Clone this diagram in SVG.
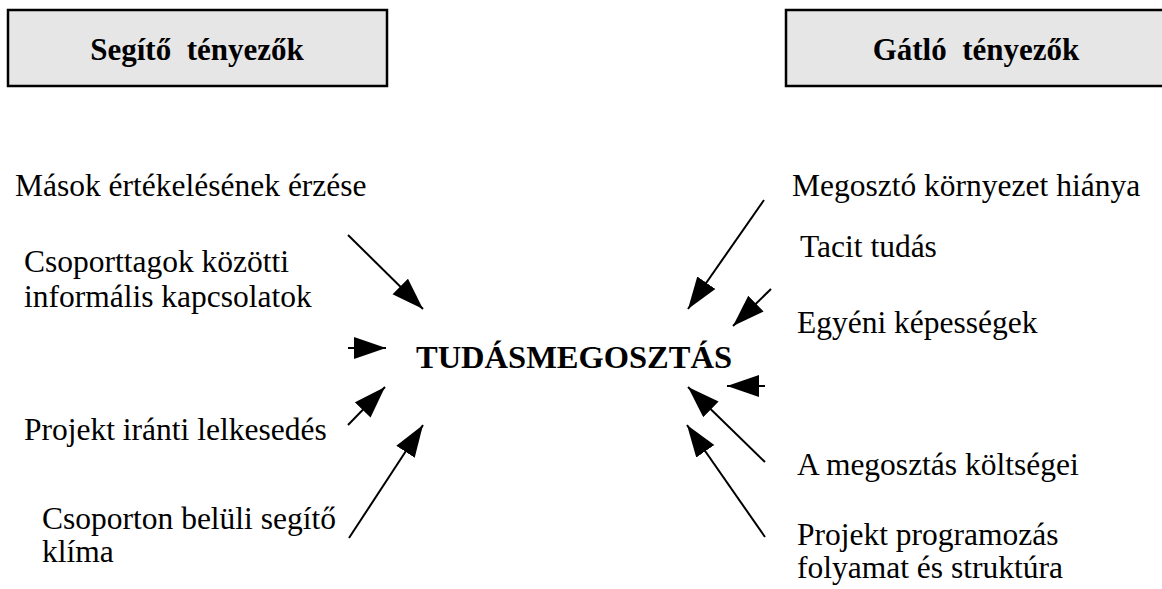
<svg xmlns="http://www.w3.org/2000/svg" width="1162" height="589" viewBox="0 0 1162 589">
  <style>
    .box { fill: #e6e6e6; stroke: #000; stroke-width: 2.5; }
    text { font-family: 'Liberation Serif', 'Tinos', 'Times New Roman', 'DejaVu Serif', serif; fill: #000; font-size: 31.5px; }
    .head { font-weight: bold; font-size: 31px; }
    .core { font-weight: bold; font-size: 32.5px; }
    .arrow { stroke: #000; stroke-width: 2; fill: none; marker-end: url(#head); }
  </style>
  <defs>
    <marker id="head" markerUnits="userSpaceOnUse" markerWidth="34" markerHeight="24" refX="32" refY="11" orient="auto">
      <path d="M0,0 L32,11 L0,22 Z" fill="#000"/>
    </marker>
  </defs>
  <rect width="1162" height="589" fill="#fff"/>

  <!-- column headers -->
  <g id="helping-factors">
    <rect class="box" x="8" y="10" width="379" height="76"/>
    <text class="head" x="197" y="60" text-anchor="middle" xml:space="preserve">Segítő  tényezők</text>
  </g>
  <g id="hindering-factors">
    <rect class="box" x="786" y="10" width="390" height="76"/>
    <text class="head" x="976" y="60" text-anchor="middle" xml:space="preserve">Gátló  tényezők</text>
  </g>

  <!-- central concept -->
  <g id="knowledge-sharing">
    <text class="core" x="574" y="368" text-anchor="middle">TUDÁSMEGOSZTÁS</text>
  </g>

  <!-- helping factors (left) -->
  <g id="f-appreciation">
    <text x="15" y="196">Mások értékelésének érzése</text>
  </g>
  <g id="f-informal-ties">
    <text x="24" y="272">Csoporttagok közötti</text>
    <text x="24" y="307">informális kapcsolatok</text>
  </g>
  <g id="f-enthusiasm">
    <text x="24" y="440">Projekt iránti lelkesedés</text>
  </g>
  <g id="f-climate">
    <text x="42" y="529">Csoporton belüli segítő</text>
    <text x="42" y="562">klíma</text>
  </g>

  <!-- hindering factors (right) -->
  <g id="h-environment">
    <text x="792" y="196">Megosztó környezet hiánya</text>
  </g>
  <g id="h-tacit">
    <text x="800" y="257">Tacit tudás</text>
  </g>
  <g id="h-abilities">
    <text x="797" y="333">Egyéni képességek</text>
  </g>
  <g id="h-costs">
    <text x="797" y="475">A megosztás költségei</text>
  </g>
  <g id="h-programming">
    <text x="797" y="545">Projekt programozás</text>
    <text x="797" y="578">folyamat és struktúra</text>
  </g>

  <!-- connectors -->
  <g id="connectors">
    <line class="arrow" x1="348" y1="235" x2="423" y2="309"/>
    <line class="arrow" x1="348" y1="348" x2="386" y2="348"/>
    <line class="arrow" x1="348" y1="425" x2="385" y2="387"/>
    <line class="arrow" x1="349" y1="538" x2="423" y2="425"/>

    <line class="arrow" x1="764" y1="200" x2="688" y2="309"/>
    <line class="arrow" x1="771" y1="289" x2="733" y2="326"/>
    <line class="arrow" x1="765" y1="386" x2="727" y2="386"/>
    <line class="arrow" x1="765" y1="462" x2="688" y2="387"/>
    <line class="arrow" x1="765" y1="537" x2="687" y2="425"/>
  </g>
</svg>
